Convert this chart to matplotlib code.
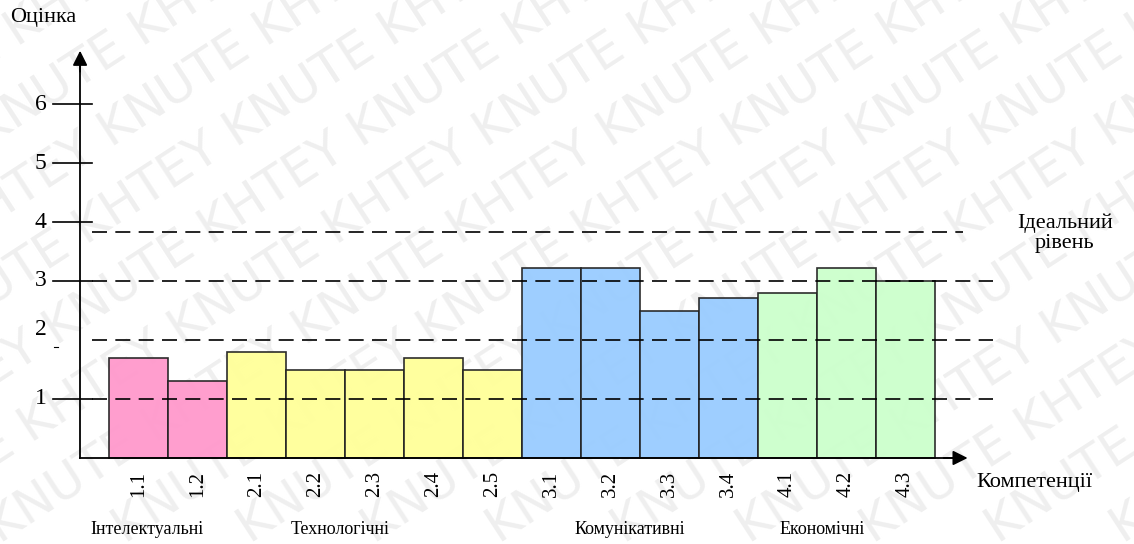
import numpy as np
import matplotlib
matplotlib.use("Agg")
from matplotlib import pyplot as plt

plt.rcParams['font.family'] = ['Liberation Serif', 'DejaVu Serif']

# data
codes = ["1.1", "1.2", "2.1", "2.2", "2.3", "2.4", "2.5",
         "3.1", "3.2", "3.3", "3.4", "4.1", "4.2", "4.3"]
scores = [1.69, 1.30, 1.80, 1.49, 1.49, 1.69, 1.49,
          3.22, 3.22, 2.49, 2.71, 2.80, 3.22, 3.00]
groups = ["Інтелектуальні", "Технологічні", "Комунікативні", "Економічні"]
group_sizes = [2, 5, 4, 3]
group_colors = ["#ff99cc", "#ffff99", "#99ccff", "#ccffcc"]
levels = [1, 2, 3]
ideal = 3.83
yticks = [1, 3, 4, 5, 6]

fig = plt.figure(figsize=(11.34, 5.44), dpi=100)

# background watermark on its own axes, behind everything
wm = fig.add_axes([0, 0, 1, 1], zorder=0)
wm.axis("off")
wm.set_xlim(0, 1)
wm.set_ylim(0, 1)
for k in range(-6, 12):
    wm.text(k * 0.11, 0.0, ("KNUTE KHTEY " * 6), fontsize=36, color="#efefef",
            family="DejaVu Sans", rotation=33, rotation_mode="anchor",
            ha="left", va="baseline", clip_on=True)

ax = fig.add_axes([0, 0, 1, 1], zorder=1)
ax.set_xlim(-2.347, 16.873)
ax.set_ylim(-1.458, 7.763)
ax.axis("off")
ax.patch.set_alpha(0)

colors = []
for c, n in zip(group_colors, group_sizes):
    colors += [c] * n
x = np.arange(len(codes))
ax.bar(x, scores, width=1.0, color=colors, edgecolor="#222222", linewidth=1.2,
       alpha=0.95, zorder=2)

# dashed reference lines
for lv in levels:
    ax.plot([-0.79, 14.48], [lv, lv], color="black", lw=1.2, dashes=(9, 5), zorder=3)
ax.plot([-0.79, 13.98], [ideal, ideal], color="black", lw=1.2, dashes=(9, 5), zorder=3)

# axes with arrows
ax.plot([-0.99, -0.99], [0, 6.7], color="black", lw=1.3, zorder=4)
ax.plot([-0.99, 13.9], [0, 0], color="black", lw=1.3, zorder=4)
ax.annotate("", xy=(-0.99, 6.95), xytext=(-0.99, 6.5),
            arrowprops=dict(arrowstyle="-|>", color="black", lw=1.3, mutation_scale=22))
ax.annotate("", xy=(14.1, 0), xytext=(13.6, 0),
            arrowprops=dict(arrowstyle="-|>", color="black", lw=1.3, mutation_scale=22))

for t in yticks:
    ax.plot([-1.45, -0.79], [t, t], color="black", lw=1.2, zorder=4)
    ax.text(-1.66, t, str(t), fontsize=17, ha="center", va="center")
ax.text(-1.66, 2.17, "2", fontsize=17, ha="center", va="center")
ax.plot([-1.43, -1.36], [1.88, 1.88], color="black", lw=0.8)

for i, c in enumerate(codes):
    ax.text(i, -0.22, c, fontsize=15, rotation=90, ha="center", va="top")

centers = [0.14, 3.42, 8.33, 11.58]
for g, cx in zip(groups, centers):
    ax.text(cx, -1.22, g, fontsize=13, ha="center", va="center")

ax.text(15.19, -0.41, "Компетенції", fontsize=16, ha="center", va="center")
ax.text(-1.62, 7.46, "Оцінка", fontsize=16, ha="center", va="center")
ax.text(15.70, 3.81, "Ідеальний\nрівень", fontsize=16, ha="center", va="center",
        linespacing=1.1)

fig.savefig("out.png", dpi=100)
